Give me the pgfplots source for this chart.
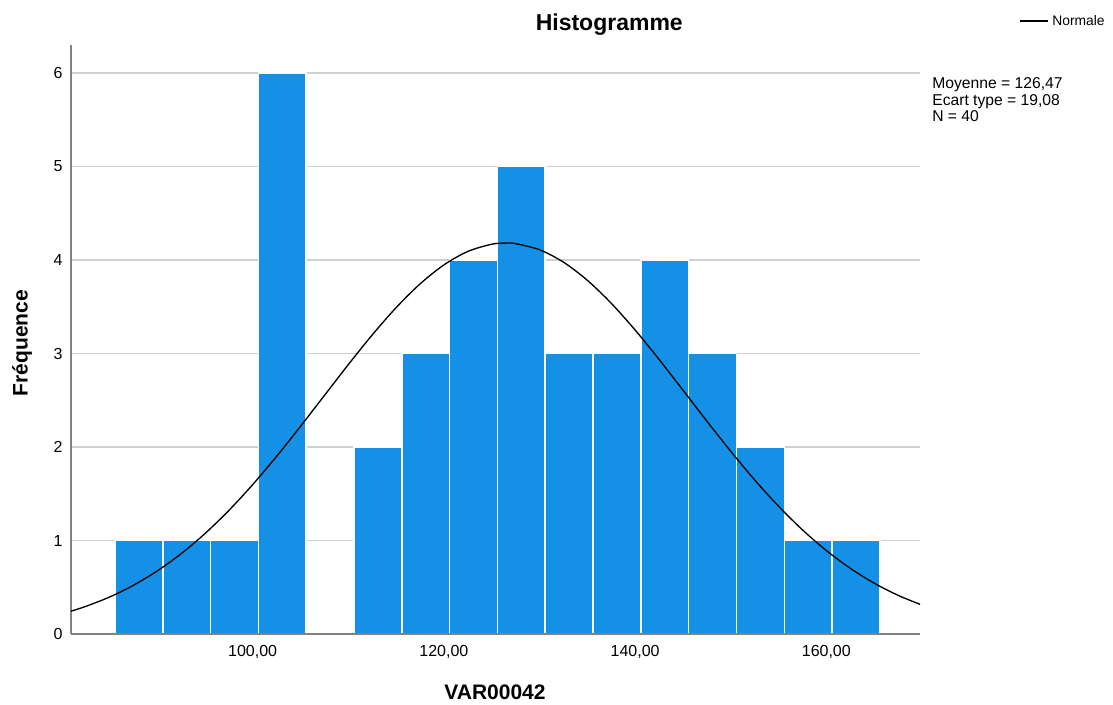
\documentclass[border=0pt]{standalone}
\usepackage{fontspec}
\setmainfont{Liberation Sans}
\usepackage{pgfplots}
\pgfplotsset{compat=1.18}
\definecolor{barblue}{RGB}{20,145,230}
\definecolor{gridgray}{RGB}{208,208,208}
\definecolor{axisgray}{RGB}{130,130,130}

\begin{document}
\begin{tikzpicture}
\begin{axis}[
    scale only axis,
    width=509.4pt, height=353.4pt,
    xmin=81.0, xmax=169.8,
    ymin=0, ymax=6.3,
    axis x line=bottom, axis y line=left,
    axis line style={-, axisgray, line width=1pt},
    major tick length=0pt,
    xtick={100,120,140,160},
    xticklabels={{100,00},{120,00},{140,00},{160,00}},
    ytick={0,1,2,3,4,5,6},
    ymajorgrids,
    grid style={gridgray, line width=1.1pt},
    ticklabel style={font=\fontsize{9.6}{11}\selectfont},
    /pgf/number format/assume math mode=true,
    yticklabel style={xshift=-1.5pt},
    xticklabel style={yshift=-3.4pt},
    clip=false,
]
% histogram bins, width 5
\addplot[ybar interval, fill=barblue, draw=white, line width=0.9pt]
  coordinates {(85.6,1) (90.6,1) (95.6,1) (100.6,6) (105.6,0)};
\addplot[ybar interval, fill=barblue, draw=white, line width=0.9pt]
  coordinates {(110.6,2) (115.6,3) (120.6,4) (125.6,5) (130.6,3) (135.6,3) (140.6,4)
               (145.6,3) (150.6,2) (155.6,1) (160.6,1) (165.6,0)};
% normal curve (mean 126.47, sd 19.08, N = 40)
\addplot[black, line width=0.8pt, smooth] coordinates {
  (81.0,0.2445) (82.5,0.2938) (85,0.3940) (87.5,0.5193) (90,0.6730)
  (92.5,0.8571) (95,1.0730) (97.5,1.3204) (100,1.5974) (102.5,1.8994)
  (105,2.2202) (107.5,2.5508) (110,2.8810) (112.5,3.1985) (115,3.4903)
  (117.5,3.7440) (120,3.9479) (122.5,4.0919) (125,4.1691) (126.47,4.1815)
  (127.5,4.1754) (130,4.1105) (132.5,3.9778) (135,3.7838) (137.5,3.5381)
  (140,3.2520) (142.5,2.9381) (145,2.6093) (147.5,2.2780) (150,1.9548)
  (152.5,1.6488) (155,1.3671) (157.5,1.1143) (160,0.8928) (162.5,0.7031)
  (165,0.5442) (167.5,0.4142) (169.8,0.3172)};
\draw[axisgray, line width=1pt] (rel axis cs:0,0) -- (rel axis cs:1,0);

\node[font=\bfseries\fontsize{13.8}{16}\selectfont] at (axis description cs:0.634,1.034) {Histogramme};
\node[font=\bfseries\fontsize{12.6}{15}\selectfont] at (axis description cs:0.4994,-0.0985) {VAR00042};
\node[font=\bfseries\fontsize{12.6}{15}\selectfont, rotate=90] at (axis description cs:-0.0577,0.494) {Fréquence};
\node[anchor=north west, inner sep=0pt, align=left, font=\fontsize{9.4}{9.9}\selectfont]
  at (axis description cs:1.0141,0.945) {Moyenne = 126,47\\Ecart type = 19,08\\N = 40};
\draw[black, line width=0.8pt] (axis description cs:1.1178,1.0407) -- (axis description cs:1.1508,1.0407);
\node[anchor=west, inner sep=0pt, font=\fontsize{8.3}{10}\selectfont] at (axis description cs:1.1555,1.0407) {Normale};

\coordinate (bbtl) at (axis description cs:-0.0836,1.0764);
\coordinate (bbbr) at (axis description cs:1.2273,-0.1205);
\end{axis}
\pgfresetboundingbox
\path[use as bounding box] (bbtl) rectangle (bbbr);
\end{tikzpicture}
\end{document}
